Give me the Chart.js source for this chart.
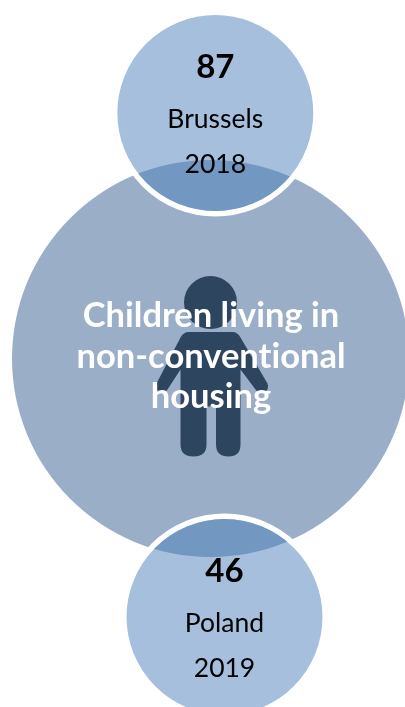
<!DOCTYPE html>
<html>
<head>
<meta charset="utf-8">
<style>
  html, body { margin: 0; padding: 0; background: #fff; }
  canvas { display: block; }
</style>
<script src="https://cdn.jsdelivr.net/npm/chart.js@4"></script>
</head>
<body>
<canvas id="housing" width="405" height="707"></canvas>
<script>
const places = ["Brussels", "Poland"];
const years = ["2018", "2019"];
const children = [87, 46];
const titleLines = ["Children living in", "non-conventional", "housing"];

const FONT = "Lato, Carlito, Calibri, sans-serif";

// fills the part of the big circle that sits inside each small one, then the text
const overlayPlugin = {
  id: "overlay",
  afterDatasetsDraw(chart) {
    const ctx = chart.ctx;
    const big = chart.getDatasetMeta(1).data[0];
    const small = chart.getDatasetMeta(0).data;
    const bigR = big.options.radius;

    small.forEach((pt) => {
      ctx.save();
      ctx.beginPath();
      ctx.arc(pt.x, pt.y, pt.options.radius - pt.options.borderWidth / 2, 0, Math.PI * 2);
      ctx.clip();
      ctx.fillStyle = "#7297c1";
      ctx.beginPath();
      ctx.arc(big.x, big.y, bigR, 0, Math.PI * 2);
      ctx.fill();
      ctx.restore();
    });

    drawPerson(ctx, big.x, big.y);

    ctx.save();
    ctx.textAlign = "center";
    ctx.textBaseline = "alphabetic";
    ctx.textRendering = "optimizeSpeed"; // no "ti" ligature

    ctx.fillStyle = "#fff";
    ctx.font = "bold 34.5px " + FONT;
    titleLines.forEach((line, i) => {
      ctx.fillText(line, big.x + 0.5, big.y - 31.5 + i * 40.5);
    });

    small.forEach((pt, i) => {
      ctx.fillStyle = "#000";
      ctx.font = "bold 33px " + FONT;
      ctx.fillText(children[i], pt.x, pt.y - 35);
      ctx.font = "26.5px " + FONT;
      ctx.fillText(places[i], pt.x, pt.y + 15);
      ctx.fillText(years[i], pt.x, pt.y + 60);
    });
    ctx.restore();
  },
};

// child pictogram, offsets are from the centre of the big circle
function drawPerson(ctx, cx, cy) {
  ctx.save();
  ctx.translate(cx, cy);
  ctx.fillStyle = "#2e4560";
  ctx.beginPath();
  ctx.arc(0, -56, 26.5, 0, Math.PI * 2);
  ctx.fill();

  ctx.beginPath();
  ctx.moveTo(-22, -26.5);
  ctx.lineTo(22, -26.5);
  ctx.quadraticCurveTo(27, -26.5, 30, -21);
  ctx.lineTo(57, 25);
  ctx.quadraticCurveTo(59, 31, 54, 33);
  ctx.quadraticCurveTo(48, 36, 45, 31);
  ctx.lineTo(30, 11);
  ctx.lineTo(30, 86);
  ctx.quadraticCurveTo(30, 98, 18, 98);
  ctx.quadraticCurveTo(5.5, 98, 5.5, 86);
  ctx.lineTo(5.5, 48);
  ctx.lineTo(-4, 48);
  ctx.lineTo(-4, 86);
  ctx.quadraticCurveTo(-4, 98, -17, 98);
  ctx.quadraticCurveTo(-30, 98, -30, 86);
  ctx.lineTo(-30, 11);
  ctx.lineTo(-43, 31);
  ctx.quadraticCurveTo(-46, 36, -51, 33);
  ctx.quadraticCurveTo(-56, 31, -54, 25);
  ctx.lineTo(-30, -21);
  ctx.quadraticCurveTo(-27, -26.5, -22, -26.5);
  ctx.closePath();
  ctx.fill();
  ctx.restore();
}

new Chart(document.getElementById("housing"), {
  type: "bubble",
  data: {
    datasets: [
      {
        order: 0,
        clip: false,
        label: "Children",
        data: [
          { x: 215.3, y: 113, r: 100.7 },
          { x: 224.5, y: 617, r: 100.7 },
        ],
        backgroundColor: "#a6bfdd",
        borderColor: "#fff",
        borderWidth: 5.5,
      },
      {
        order: 1,
        clip: false,
        label: "Children living in non-conventional housing",
        data: [{ x: 210.5, y: 358.5, r: 198.5 }],
        backgroundColor: "#9baec8",
        borderWidth: 0,
      },
    ],
  },
  options: {
    responsive: false,
    animation: false,
    events: [],
    layout: { padding: 0, autoPadding: false },
    plugins: {
      legend: { display: false },
      tooltip: { enabled: false },
    },
    scales: {
      x: { type: "linear", min: 0, max: 405, display: false },
      y: { type: "linear", min: 0, max: 707, reverse: true, display: false },
    },
  },
  plugins: [overlayPlugin],
});
</script>
</body>
</html>
